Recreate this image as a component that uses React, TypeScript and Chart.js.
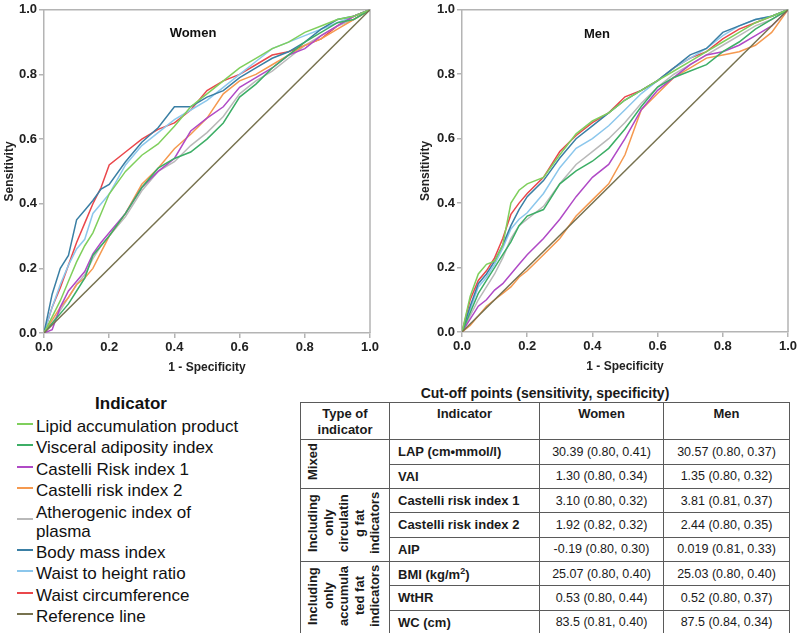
import React, { useEffect, useRef } from "react";
import { Chart, registerables } from "chart.js";

Chart.register(...registerables);

const FONT = '"Liberation Sans", Arial, Helvetica, sans-serif';

// False-positive rate (1 - specificity) grid shared by all curves
const X = [0, 0.025, 0.05, 0.075, 0.1, 0.125, 0.15, 0.175, 0.2, 0.25, 0.3, 0.35, 0.4, 0.45, 0.5, 0.55, 0.6, 0.65, 0.7, 0.75, 0.8, 0.85, 0.9, 0.95, 1];

const INDICATORS = [
  "Lipid accumulation product",
  "Visceral adiposity index",
  "Castelli Risk index 1",
  "Castelli risk index 2",
  "Atherogenic index of plasma",
  "Body mass index",
  "Waist to height ratio",
  "Waist circumference",
];
const COLORS = ["#7fcf5c", "#3dae66", "#b04ac6", "#f5994f", "#b9b9b9", "#3a7fa4", "#8cc7ec", "#ea474b"];
const REF_COLOR = "#77724f";

// Women sensitivities
const wLAP = [0, .05, .10, .16, .22, .27, .31, .37, .43, .50, .55, .585, .64, .70, .74, .78, .82, .85, .88, .90, .93, .95, .97, .98, 1];
const wVAI = [0, .03, .06, .09, .13, .17, .24, .27, .30, .37, .45, .51, .54, .56, .60, .65, .73, .77, .82, .86, .90, .93, .96, .97, 1];
const wC1 = [0, .01, .08, .13, .16, .19, .245, .28, .31, .37, .45, .50, .54, .625, .665, .70, .76, .79, .82, .86, .88, .92, .95, .98, 1];
const wC2 = [0, .04, .08, .11, .15, .17, .20, .25, .30, .37, .46, .51, .57, .615, .665, .74, .78, .80, .83, .86, .89, .91, .94, .97, 1];
const wAIP = [0, .03, .07, .11, .15, .18, .23, .27, .30, .36, .44, .50, .53, .58, .62, .67, .74, .78, .81, .85, .89, .92, .95, .97, 1];
const wBMI = [0, .12, .20, .24, .35, .38, .41, .445, .46, .53, .59, .635, .70, .70, .73, .75, .79, .82, .85, .87, .90, .94, .97, .98, 1];
const wWtHR = [0, .08, .15, .21, .26, .29, .37, .40, .43, .52, .58, .62, .66, .69, .72, .76, .80, .84, .88, .90, .92, .94, .96, .98, 1];
const wWC = [0, .08, .14, .21, .28, .34, .40, .45, .52, .56, .60, .63, .65, .69, .75, .78, .80, .83, .86, .87, .89, .91, .95, .98, 1];

// Men sensitivities
const mLAP = [0, .11, .18, .21, .22, .27, .40, .44, .46, .48, .55, .615, .655, .68, .72, .75, .78, .81, .84, .87, .90, .93, .96, .98, 1];
const mVAI = [0, .06, .12, .16, .20, .24, .28, .33, .36, .38, .46, .50, .53, .57, .63, .70, .76, .79, .81, .83, .87, .90, .94, .97, 1];
const mC1 = [0, .04, .08, .10, .13, .15, .18, .21, .24, .29, .35, .42, .48, .52, .60, .69, .75, .79, .83, .86, .87, .89, .92, .95, 1];
const mC2 = [0, .02, .05, .08, .10, .12, .14, .17, .19, .24, .29, .36, .41, .46, .55, .69, .74, .79, .82, .85, .86, .87, .89, .93, 1];
const mAIP = [0, .05, .10, .14, .18, .23, .29, .33, .35, .39, .46, .52, .56, .60, .65, .71, .76, .80, .83, .86, .89, .92, .95, .97, 1];
const mBMI = [0, .08, .15, .18, .22, .27, .33, .38, .42, .47, .54, .60, .64, .68, .72, .75, .78, .82, .86, .88, .93, .95, .97, .98, 1];
const mWtHR = [0, .07, .14, .17, .21, .26, .32, .35, .37, .43, .51, .57, .60, .64, .69, .74, .78, .82, .85, .88, .92, .95, .97, .98, 1];
const mWC = [0, .10, .16, .19, .23, .29, .365, .40, .43, .48, .56, .61, .65, .68, .73, .75, .78, .82, .85, .87, .91, .94, .96, .98, 1];

const REF_X = [0, 1];
const REF_Y = [0, 1];

const WOMEN = [wLAP, wVAI, wC1, wC2, wAIP, wBMI, wWtHR, wWC];
const MEN = [mLAP, mVAI, mC1, mC2, mAIP, mBMI, mWtHR, mWC];

// Cut-off table
const TABLE_INDICATORS = ["LAP (cm\u2022mmol/l)", "VAI", "Castelli risk index 1", "Castelli risk index 2", "AIP", "BMI (kg/m\u00b2)", "WtHR", "WC (cm)"];
const TABLE_WOMEN = ["30.39 (0.80, 0.41)", "1.30 (0.80, 0.34)", "3.10 (0.80, 0.32)", "1.92 (0.82, 0.32)", "-0.19 (0.80, 0.30)", "25.07 (0.80, 0.40)", "0.53 (0.80, 0.44)", "83.5 (0.81, 0.40)"];
const TABLE_MEN = ["30.57 (0.80, 0.37)", "1.35 (0.80, 0.32)", "3.81 (0.81, 0.37)", "2.44 (0.80, 0.35)", "0.019 (0.81, 0.33)", "25.03 (0.80, 0.40)", "0.52 (0.80, 0.37)", "87.5 (0.84, 0.34)"];
const GROUPS = [
  { lines: ["Mixed"], span: 2 },
  { lines: ["Including", "only", "circulatin", "g fat", "indicators"], span: 3 },
  { lines: ["Including", "only", "accumula", "ted fat", "indicators"], span: 3 },
];

type RocProps = {
  title: string;
  series: number[][];
  left: number;
  top: number;
  width: number;
  height: number;
  padLeft: number;
  padRight: number;
  padTop: number;
  yWidth: number;
  titleX: number;
  titleY: number;
};

function RocChart(p: RocProps) {
  const ref = useRef<HTMLCanvasElement>(null);
  useEffect(() => {
    if (!ref.current) return;
    const datasets: any[] = p.series.map((s, i) => ({
      label: INDICATORS[i],
      data: X.map((x, j) => ({ x, y: s[j] })),
      borderColor: COLORS[i],
      borderWidth: 1.5,
      pointRadius: 0,
      tension: 0,
      fill: false,
    }));
    datasets.unshift({
      label: "Reference line",
      data: REF_X.map((x, j) => ({ x, y: REF_Y[j] })),
      borderColor: REF_COLOR,
      borderWidth: 1.5,
      pointRadius: 0,
      fill: false,
    });
    const axisColor = "#b4b4b4";
    const framePlugin = {
      id: "frame",
      beforeDatasetsDraw(chart: any) {
        const { ctx, chartArea: a } = chart;
        ctx.save();
        ctx.strokeStyle = axisColor;
        ctx.lineWidth = 1.5;
        ctx.beginPath();
        ctx.moveTo(a.left, a.top);
        ctx.lineTo(a.right, a.top);
        ctx.lineTo(a.right, a.bottom);
        ctx.stroke();
        ctx.restore();
      },
      afterDatasetsDraw(chart: any) {
        const { ctx, scales } = chart;
        ctx.save();
        ctx.fillStyle = "#111";
        ctx.font = `bold 13px ${FONT}`;
        ctx.textAlign = "center";
        ctx.textBaseline = "middle";
        ctx.fillText(p.title, scales.x.getPixelForValue(p.titleX), scales.y.getPixelForValue(p.titleY));
        ctx.restore();
      },
    };
    const tickFont = { family: FONT, size: 13, weight: "bold" as const };
    const titleFont = { family: FONT, size: 12, weight: "bold" as const };
    const chart = new Chart(ref.current, {
      type: "line",
      data: { datasets },
      options: {
        animation: false,
        responsive: false,
        maintainAspectRatio: false,
        layout: { padding: { left: p.padLeft, right: p.padRight, top: p.padTop, bottom: 0 } },
        plugins: { legend: { display: false }, tooltip: { enabled: false } },
        scales: {
          x: {
            type: "linear",
            min: 0,
            max: 1,
            ticks: { stepSize: 0.2, callback: (v: any) => Number(v).toFixed(1), font: tickFont, color: "#222", padding: 2, maxRotation: 0 },
            grid: { drawOnChartArea: false, drawTicks: true, tickLength: 5, color: axisColor, lineWidth: 1.5 },
            border: { color: axisColor, width: 1.5 },
            title: { display: true, text: "1 - Specificity", font: titleFont, color: "#222", padding: { top: 1, bottom: 0 } },
            afterFit: (s: any) => { s.height = 42; },
          },
          y: {
            type: "linear",
            min: 0,
            max: 1,
            ticks: { stepSize: 0.2, callback: (v: any) => Number(v).toFixed(1), font: tickFont, color: "#222", padding: 2 },
            grid: { drawOnChartArea: false, drawTicks: true, tickLength: 5, color: axisColor, lineWidth: 1.5 },
            border: { color: axisColor, width: 1.5 },
            title: { display: true, text: "Sensitivity", font: titleFont, color: "#222", padding: { top: 2, bottom: 0 } },
            afterFit: (s: any) => { s.width = p.yWidth; },
          },
        },
      } as any,
      plugins: [framePlugin],
    });
    return () => chart.destroy();
  }, []);
  return (
    <div style={{ position: "absolute", left: p.left, top: p.top, width: p.width, height: p.height }}>
      <canvas ref={ref} width={p.width} height={p.height} style={{ width: p.width, height: p.height, display: "block" }} />
    </div>
  );
}

function Legend() {
  const items = [...INDICATORS.map((n, i) => ({ name: n, color: COLORS[i] })), { name: "Reference line", color: REF_COLOR }];
  return (
    <div style={{ position: "absolute", left: 0, top: 392, width: 290, fontFamily: FONT, color: "#111" }}>
      <div style={{ textAlign: "center", fontWeight: "bold", fontSize: 17, marginLeft: -28, height: 24, lineHeight: "24px" }}>Indicator</div>
      {items.map((it, i) => {
        const two = it.name === "Atherogenic index of plasma";
        return (
          <div key={i} style={{ position: "relative", paddingLeft: 36, fontSize: 17, lineHeight: two ? "19px" : "21.3px", marginTop: two ? 2 : 0, marginBottom: two ? 1 : 0 }}>
            <span style={{ position: "absolute", left: 17, top: two ? 15 : 7, width: 16, height: 2, background: it.color }} />
            {two ? (<>Atherogenic index of<br />plasma</>) : it.name}
          </div>
        );
      })}
    </div>
  );
}

function CutoffTable() {
  const border = "1px solid #5a5a5a";
  const cell: React.CSSProperties = { border, padding: 0, height: 23, fontSize: 12.5, textAlign: "center", verticalAlign: "middle" };
  const hcell: React.CSSProperties = { border, padding: "3px 0 0 0", height: 33, fontSize: 13, fontWeight: "bold", textAlign: "center", verticalAlign: "top", lineHeight: "16px" };
  const rows: any[] = [];
  let gi = 0;
  let next = 0;
  TABLE_INDICATORS.forEach((ind, i) => {
    let groupCell = null;
    if (i === next) {
      const g = GROUPS[gi];
      const h = g.span * 24 - 4;
      groupCell = (
        <td rowSpan={g.span} style={{ border, padding: "0 0 0 4px", verticalAlign: "middle", textAlign: "left" }}>
          <div style={{ writingMode: "vertical-rl", transform: "rotate(180deg)", height: h, textAlign: "center", fontWeight: "bold", fontSize: 13, lineHeight: "15.6px", display: "inline-block" }}>
            {g.lines.map((l, k) => (<React.Fragment key={k}>{l}{k < g.lines.length - 1 ? <br /> : null}</React.Fragment>))}
          </div>
        </td>
      );
      next += g.span;
      gi += 1;
    }
    rows.push(
      <tr key={i}>
        {groupCell}
        <td style={{ ...cell, fontSize: 13, fontWeight: "bold", textAlign: "left", paddingLeft: 8 }}>{ind === "BMI (kg/m\u00b2)" ? (<>BMI (kg/m<sup style={{ fontSize: 9 }}>2</sup>)</>) : ind}</td>
        <td style={cell}>{TABLE_WOMEN[i]}</td>
        <td style={cell}>{TABLE_MEN[i]}</td>
      </tr>
    );
  });
  return (
    <div style={{ position: "absolute", left: 300, top: 384, width: 490, fontFamily: FONT, color: "#1a1a1a" }}>
      <div style={{ position: "absolute", left: 0, top: 0, width: 490, textAlign: "center", fontWeight: "bold", fontSize: 14, lineHeight: "18px" }}>Cut-off points (sensitivity, specificity)</div>
      <table style={{ position: "absolute", left: 0, top: 18, borderCollapse: "collapse", tableLayout: "fixed", width: 489, border: "1.5px solid #444" }}>
        <colgroup>
          <col style={{ width: 89 }} />
          <col style={{ width: 150 }} />
          <col style={{ width: 124 }} />
          <col style={{ width: 126 }} />
        </colgroup>
        <tbody>
          <tr>
            <td style={hcell}>Type of<br />indicator</td>
            <td style={hcell}>Indicator</td>
            <td style={hcell}>Women</td>
            <td style={hcell}>Men</td>
          </tr>
          {rows}
        </tbody>
      </table>
    </div>
  );
}

export default function App() {
  return (
    <div style={{ position: "absolute", left: 0, top: 0, width: 800, height: 633, background: "#fff", overflow: "hidden" }}>
      <RocChart title="Women" series={WOMEN} left={0} top={0} width={400} height={375} padLeft={0} padRight={30} padTop={8} yWidth={44} titleX={0.457} titleY={0.926} />
      <RocChart title="Men" series={MEN} left={400} top={0} width={400} height={374} padLeft={16} padRight={12} padTop={7} yWidth={46} titleX={0.414} titleY={0.925} />
      <Legend />
      <CutoffTable />
    </div>
  );
}
